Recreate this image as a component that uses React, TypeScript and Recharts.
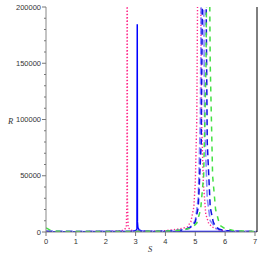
import React from 'react'
import { LineChart, Line, XAxis, YAxis } from 'recharts'

// R(S) curves, values (tops above 200000 are clipped)
const pinkS = [0, 0.5, 1, 1.5, 2, 2.4, 2.6, 2.69, 2.712, 2.716, 2.722, 2.726, 2.75, 2.85, 3, 3.5, 4, 4.4, 4.6, 4.73, 4.85, 4.95, 5.0, 5.05, 5.09, 5.13, 5.17, 5.21, 5.27, 5.35, 5.45, 5.57, 5.8, 6.2, 6.6, 7.06]
const pinkR = [400, 300, 300, 400, 500, 900, 1500, 4000, 30000, 400000, 400000, 30000, 4000, 1500, 1000, 700, 1200, 2500, 3500, 4400, 9000, 22000, 43500, 100000, 260000, 400000, 260000, 100000, 43500, 16000, 7500, 4400, 1800, 800, 500, 300]

const lavS = [0, 0.5, 1, 2, 3, 4, 4.5, 4.8, 5.0, 5.1, 5.17, 5.21, 5.24, 5.27, 5.31, 5.4, 5.5, 5.7, 6, 6.5, 7.06]
const lavR = [900, 600, 500, 500, 500, 800, 1600, 3200, 10000, 30000, 100000, 260000, 400000, 260000, 100000, 30000, 10000, 3000, 1200, 600, 400]

const blueS = [0, 0.5, 1, 2, 3, 4, 4.5, 4.7, 4.9, 5.0, 5.1, 5.2, 5.25, 5.3, 5.35, 5.4, 5.5, 5.6, 5.67, 5.8, 6.0, 6.5, 7.06]
const blueR = [500, 400, 400, 400, 400, 600, 1500, 2800, 5000, 9000, 22000, 80000, 250000, 400000, 250000, 80000, 22000, 9000, 5000, 2500, 1200, 500, 400]

const greenS = [0, 0.05, 0.15, 0.3, 0.6, 1, 2, 3, 4, 4.6, 4.9, 5.05, 5.18, 5.28, 5.36, 5.43, 5.5, 5.58, 5.68, 5.82, 6.0, 6.3, 6.8, 7.06]
const greenR = [3500, 3000, 1500, 700, 500, 400, 400, 500, 700, 1800, 4000, 8000, 20000, 50000, 150000, 400000, 150000, 50000, 20000, 6000, 3000, 1200, 600, 500]

const solidS = [0, 1, 2, 2.9, 3.0, 3.045, 3.055, 3.058, 3.064, 3.08, 3.12, 3.2, 3.5, 4, 5, 6, 7.06]
const solidR = [300, 300, 400, 700, 1200, 2500, 184000, 184000, 9000, 4000, 1800, 900, 500, 400, 600, 400, 300]

const xTicks = [0, 1, 2, 3, 4, 5, 6, 7]
const yTicks = Array.from({ length: 21 }, (_, i) => i * 10000)

const zip = (s: number[], r: number[]) => s.map((v, i) => ({ s: v, r: r[i] }))

const YTick = (props: any) => {
  const { x, y, payload } = props
  const major = payload.value % 50000 === 0
  return (
    <g>
      <line x1={x - (major ? 4 : 2)} x2={x} y1={y} y2={y} stroke="#777" />
      {major && (
        <text x={x - 5} y={y + 2.5} textAnchor="end" fontSize={7.5} fill="#333" fontFamily="Liberation Sans, Arial, sans-serif">
          {payload.value}
        </text>
      )}
    </g>
  )
}

const XTick = (props: any) => {
  const { x, y, payload } = props
  return (
    <g>
      <line x1={x} x2={x} y1={y} y2={y + 4} stroke="#777" />
      <text x={x} y={y + 12} textAnchor="middle" fontSize={7.5} fill="#333" fontFamily="Liberation Sans, Arial, sans-serif">
        {payload.value}
      </text>
    </g>
  )
}

export default function App() {
  return (
    <div style={{ position: 'absolute', left: 0, top: 0, background: '#fff' }}>
      <LineChart width={261} height={261} margin={{ top: 7, right: 3, left: 0, bottom: 0 }}>
        <XAxis dataKey="s" type="number" domain={[0, 7.067]} ticks={xTicks} allowDataOverflow
          height={29} tickSize={0} tickMargin={0} tickLine={false} tick={<XTick />} stroke="#888" />
        <XAxis xAxisId="top" orientation="top" type="number" domain={[0, 7.067]} height={0} tick={false} tickLine={false} stroke="#888" />
        <YAxis type="number" domain={[0, 200000]} ticks={yTicks} allowDataOverflow interval={0}
          width={46} tickSize={0} tickMargin={0} tickLine={false} tick={<YTick />} stroke="#888" />
        <YAxis yAxisId="right" orientation="right" domain={[0, 200000]} width={1} tick={false} tickLine={false} stroke="#000" />
        <Line data={zip(pinkS, pinkR)} dataKey="r" type="linear" stroke="#ff2a8a" strokeWidth={1.4} strokeDasharray="1.3 2" dot={false} isAnimationActive={false} />
        <Line data={zip(solidS, solidR)} dataKey="r" type="linear" stroke="#0000ff" strokeWidth={1.4} dot={false} isAnimationActive={false} />
        <Line data={zip(lavS, lavR)} dataKey="r" type="linear" stroke="#8a8aff" strokeWidth={1.6} strokeDasharray="7 3" dot={false} isAnimationActive={false} />
        <Line data={zip(blueS, blueR)} dataKey="r" type="linear" stroke="#1010e0" strokeWidth={1.5} strokeDasharray="6 4" dot={false} isAnimationActive={false} />
        <Line data={zip(greenS, greenR)} dataKey="r" type="linear" stroke="#44e044" strokeWidth={1.5} strokeDasharray="5 5" dot={false} isAnimationActive={false} />
        <text x={8} y={124} fontSize={8.5} fontStyle="italic" fill="#333" fontFamily="Liberation Serif, serif">R</text>
        <text x={148} y={252} fontSize={8.5} fontStyle="italic" fill="#333" fontFamily="Liberation Serif, serif">S</text>
      </LineChart>
    </div>
  )
}
